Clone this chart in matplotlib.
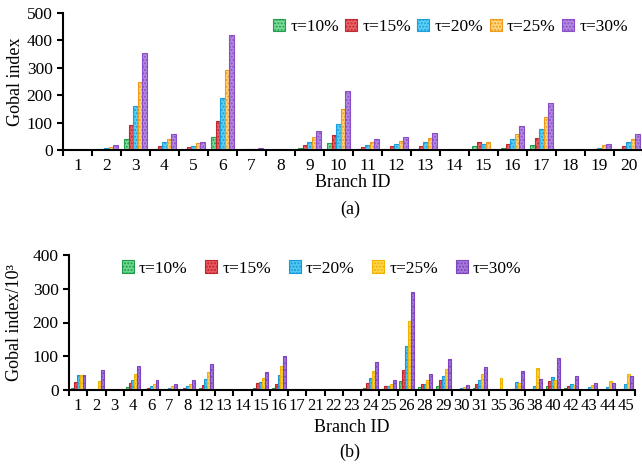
import numpy as np
import matplotlib
matplotlib.use("Agg")
import matplotlib.pyplot as plt

plt.rcParams['font.family'] = ['Liberation Serif', 'DejaVu Serif']

series_labels = ["τ=10%", "τ=15%", "τ=20%", "τ=25%", "τ=30%"]

# ---- (a) ----
branches_a = [str(i) for i in range(1, 21)]
a_t10 = [0, 0, 40, 5, 0, 47, 0, 0, 9, 26, 5, 5, 5, 0, 13, 9, 20, 0, 0, 4]
a_t15 = [0, 5, 90, 14, 10, 106, 3, 0, 17, 53, 10, 13, 16, 0, 30, 23, 43, 0, 4, 13]
a_t20 = [0, 8, 159, 28, 14, 189, 4, 0, 30, 95, 20, 23, 30, 0, 22, 40, 75, 0, 8, 28]
a_t25 = [0, 12, 249, 40, 24, 292, 4, 0, 47, 148, 30, 34, 43, 0, 30, 59, 119, 0, 17, 40]
a_t30 = [0, 19, 353, 57, 30, 420, 7, 0, 69, 214, 40, 47, 63, 0, 5, 86, 171, 0, 23, 57]

# ---- (b) ----
branches_b = ["1", "2", "3", "4", "6", "7", "8", "12", "13", "14", "15", "16", "17",
              "21", "22", "23", "24", "25", "26", "28", "29", "30", "31", "35", "36",
              "38", "40", "42", "43", "44", "45"]
b_t10 = [7, 0, 0, 8, 2, 0, 0, 5, 0, 0, 7, 6, 0, 0, 0, 0, 7, 3, 28, 8, 11, 0, 6, 0, 0, 0, 11, 6, 0, 0, 0]
b_t15 = [25, 0, 0, 22, 7, 4, 7, 16, 0, 0, 20, 17, 3, 0, 0, 0, 20, 12, 60, 17, 31, 0, 17, 0, 3, 0, 26, 11, 0, 0, 3]
b_t20 = [45, 0, 0, 29, 13, 7, 11, 34, 0, 0, 23, 44, 0, 0, 0, 0, 37, 12, 129, 19, 41, 6, 29, 0, 24, 12, 39, 17, 9, 9, 17]
b_t25 = [43, 27, 3, 48, 17, 13, 18, 54, 0, 0, 37, 71, 0, 0, 0, 0, 56, 17, 203, 31, 63, 9, 47, 37, 20, 64, 29, 15, 14, 28, 47]
b_t30 = [43, 59, 3, 70, 29, 18, 29, 78, 0, 0, 53, 101, 0, 0, 0, 0, 83, 29, 291, 46, 93, 15, 69, 0, 57, 32, 94, 42, 20, 22, 42]

face_a = ["#7ddc9a", "#e8646a", "#5cd0f5", "#ffd580", "#b48ae0"]
edge_a = ["#22a050", "#c0282e", "#1a9fdc", "#f09a1a", "#8a4fc8"]
face_b = ["#6fd890", "#e85a60", "#52c8f2", "#ffd54a", "#a67ad8"]
edge_b = ["#1f9a48", "#c0242a", "#1898d8", "#f0b400", "#7d44c0"]

fig = plt.figure(figsize=(6.42, 4.66), dpi=100)

def draw(ax, cats, data, faces, edges, ylim, yticks, ylabel):
    n = len(cats)
    x = np.arange(n)
    w = 0.16
    for k, vals in enumerate(data):
        ax.bar(x - 0.32 + k * w, vals, width=w, color=faces[k], edgecolor=edges[k],
               linewidth=0.8, hatch='.....', label=series_labels[k], zorder=2)
    ax.set_xlim(-0.5, n - 0.5)
    ax.set_ylim(*ylim)
    ax.set_yticks(yticks)
    ax.set_xticks(np.arange(n + 1) - 0.5)
    ax.set_xticklabels([])
    ax.set_xticks(x, minor=True)
    ax.set_xticklabels(cats, minor=True)
    ax.tick_params(axis='x', which='major', direction='out', length=4, width=1.5)
    ax.tick_params(axis='x', which='minor', length=0, pad=6)
    ax.tick_params(axis='y', direction='out', length=4, width=1.5)
    for s in ['top', 'right']:
        ax.spines[s].set_visible(False)
    for s in ['left', 'bottom']:
        ax.spines[s].set_linewidth(1.5)
    ax.set_ylabel(ylabel, fontsize=13)
    ax.set_xlabel("Branch ID", fontsize=13, labelpad=0)

ax1 = fig.add_axes([63/642, 1 - 150/466, 580/642, 137/466])
draw(ax1, branches_a, [a_t10, a_t15, a_t20, a_t25, a_t30], face_a, edge_a,
     (0, 500), [0, 100, 200, 300, 400, 500], "Gobal index")
ax1.tick_params(axis='both', which='both', labelsize=12.5)
ax1.legend(loc='center left', bbox_to_anchor=(0.362, 0.9), ncol=5, frameon=False,
           fontsize=12.5, handlelength=0.7, handleheight=0.7, handletextpad=0.3,
           columnspacing=0.35, borderpad=0, borderaxespad=0)
ax1.yaxis.set_label_coords(-0.068, 0.5)

ax2 = fig.add_axes([69/642, 1 - 390/466, 566/642, 135/466])
draw(ax2, branches_b, [b_t10, b_t15, b_t20, b_t25, b_t30], face_b, edge_b,
     (0, 400), [0, 100, 200, 300, 400], "Gobal index/10³")
ax2.xaxis.labelpad = 3
ax2.tick_params(axis='both', which='both', labelsize=12.5)
for lab in ax2.get_xticklabels(minor=True):
    lab.set_fontsize(12)
ax2.legend(loc='center left', bbox_to_anchor=(0.093, 0.9), ncol=5, frameon=False,
           fontsize=12.5, handlelength=0.7, handleheight=0.7, handletextpad=0.3,
           columnspacing=1.0, borderpad=0, borderaxespad=0)
ax2.yaxis.set_label_coords(-0.081, 0.5)

fig.text(350/642, 1 - 209/466, "(a)", ha='center', va='center', fontsize=13)
fig.text(350/642, 1 - 452/466, "(b)", ha='center', va='center', fontsize=13)

fig.savefig("out.png", dpi=100)
